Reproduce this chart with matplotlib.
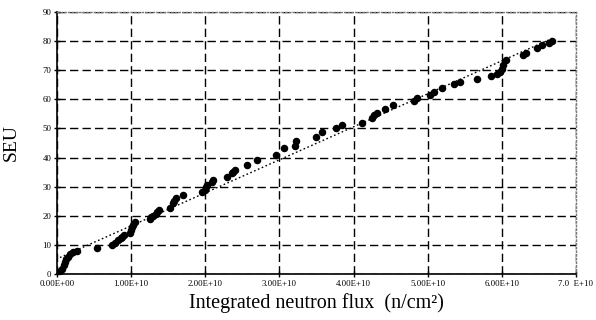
import numpy as np
import matplotlib
matplotlib.use('Agg')
import matplotlib.pyplot as plt

# integrated neutron flux, in units of 1E10 n/cm2
flux = [0.04, 0.07, 0.09, 0.11, 0.12, 0.15, 0.18, 0.21, 0.27, 0.54,
        0.74, 0.78, 0.82, 0.86, 0.88, 0.90, 0.98, 1.00, 1.01, 1.02, 1.05,
        1.25, 1.27, 1.29, 1.33, 1.35, 1.37, 1.52, 1.56, 1.58, 1.60, 1.70,
        1.95, 1.99, 2.01, 2.03, 2.09, 2.10, 2.29, 2.36, 2.38, 2.40, 2.56, 2.70,
        2.96, 3.06, 3.21, 3.23, 3.49, 3.57, 3.77, 3.84, 4.11, 4.25, 4.28, 4.31,
        4.42, 4.53, 4.82, 4.86, 5.03, 5.09, 5.19, 5.36, 5.43, 5.66,
        5.86, 5.93, 5.97, 6.00, 6.02, 6.06, 6.29, 6.33, 6.48, 6.54, 6.64, 6.68]
seu = [1.0, 1.7, 3.0, 4.0, 5.0, 6.0, 7.0, 7.5, 8.0, 9.0,
       10.0, 10.7, 11.7, 12.3, 12.7, 13.3, 14.0, 15.0, 16.0, 17.0, 18.0,
       19.0, 19.5, 20.0, 20.7, 21.3, 22.0, 22.7, 24.4, 25.2, 26.0, 27.0,
       28.0, 29.0, 29.8, 30.6, 31.6, 32.3, 33.3, 34.6, 35.2, 35.7, 37.4, 39.0,
       41.0, 43.3, 44.0, 45.7, 47.0, 48.8, 50.2, 51.2, 51.9, 53.6, 54.5, 55.3,
       56.7, 58.0, 59.4, 60.5, 61.5, 62.5, 63.9, 65.3, 66.0, 67.0,
       68.0, 68.7, 69.5, 70.4, 71.8, 73.5, 75.3, 76.0, 77.7, 78.7, 79.4, 80.0]

xtick_vals = [0, 1, 2, 3, 4, 5, 6, 7]
xtick_labels = ['0.00E+00', '1.00E+10', '2.00E+10', '3.00E+10',
                '4.00E+10', '5.00E+10', '6.00E+10', '7.0  E+10']
ytick_vals = [0, 10, 20, 30, 40, 50, 60, 70, 80, 90]

plt.rcParams['font.family'] = ['Liberation Serif', 'DejaVu Serif']

fig = plt.figure(figsize=(5.96, 3.2), dpi=100)
ax = fig.add_axes([0.0956, 0.1437, 0.8708, 0.8188])

x = np.array(flux)
y = np.array(seu)
ax.plot(x, y, 'o', color='black', markersize=4.4, zorder=3)

# linear trend line
k, b = np.polyfit(x, y, 1)
xl = np.array([x.min(), x.max()])
ax.plot(xl, k * xl + b, color='black', linestyle=(0, (1.2, 1.8)), linewidth=1.0, zorder=2)

ax.set_xlim(0, 7)
ax.set_ylim(0, 90)
ax.set_xticks(xtick_vals)
ax.set_xticklabels(xtick_labels, fontsize=6.3)
ax.set_yticks(ytick_vals)
ax.set_yticklabels([str(v) for v in ytick_vals], fontsize=6.3)
ax.tick_params(direction='inout', length=4, width=1, pad=2)

ax.grid(True, color='black', linestyle=(0, (6, 3)), linewidth=1)
for s in ['left', 'bottom']:
    ax.spines[s].set_color('black')
    ax.spines[s].set_linewidth(1.2)
for s in ['top', 'right']:
    ax.spines[s].set_color('#777777')
    ax.spines[s].set_linestyle(':')
    ax.spines[s].set_linewidth(1)

ax.set_ylabel('SEU', fontsize=14, labelpad=16)
ax.set_xlabel('Integrated neutron flux  (n/cm\u00b2)', fontsize=14.5, labelpad=4)

fig.savefig('out.png', dpi=100)
